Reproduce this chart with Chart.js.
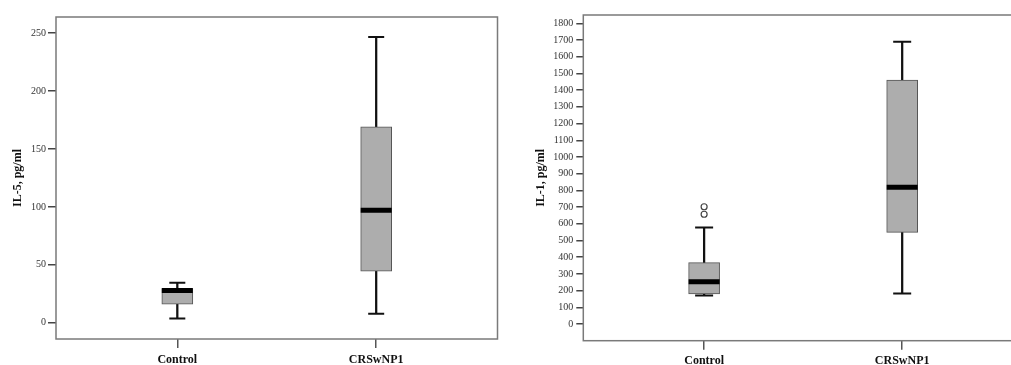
<!DOCTYPE html>
<html>
<head>
<meta charset="utf-8">
<title>IL-5 and IL-1 box plots</title>
<script src="https://cdn.jsdelivr.net/npm/chart.js@4.4.1/dist/chart.umd.min.js"></script>
<style>
  html, body { margin: 0; padding: 0; background: #fff; overflow: hidden; }
  #wrap { position: relative; width: 1011px; height: 365px; overflow: hidden; }
  .pane { position: absolute; top: 0; height: 365px; }
  #leftPane { left: 0; width: 505px; }
  #rightPane { left: 505px; width: 525px; }
</style>
</head>
<body>
<div id="wrap">
  <div class="pane" id="leftPane"><canvas id="il5Chart"></canvas></div>
  <div class="pane" id="rightPane"><canvas id="il1Chart"></canvas></div>
</div>
<script>
// Groups on the x axis
const groups = ['Control', 'CRSwNP1'];

// IL-5, pg/ml (min, quartiles, median, max per group)
const il5Min = [3.7, 7.8];
const il5Q1 = [16.1, 44.6];
const il5Median = [27.9, 97.2];
const il5Q3 = [29.6, 169.2];
const il5Max = [34.5, 246.8];
const il5Outliers = [[], []];
const il5Ticks = [0, 50, 100, 150, 200, 250];

// IL-1, pg/ml
const il1Min = [170, 182];
const il1Q1 = [180, 549];
const il1Median = [253, 818];
const il1Q3 = [367, 1461];
const il1Max = [577, 1690];
const il1Outliers = [[657, 702], []];
const il1Ticks = [0, 100, 200, 300, 400, 500, 600, 700, 800, 900,
                  1000, 1100, 1200, 1300, 1400, 1500, 1600, 1700, 1800];

const FONT = "'Liberation Serif', 'Times New Roman', serif";

// draws the box round the plot area
const framePlugin = {
    id: 'frame',
    beforeDatasetsDraw(chart) {
        const a = chart.chartArea;
        const ctx = chart.ctx;
        ctx.save();
        ctx.strokeStyle = '#7a7a7a';
        ctx.lineWidth = 1.5;
        ctx.strokeRect(a.left, a.top, a.right - a.left, a.bottom - a.top);
        ctx.restore();
    }
};

function makeBoxChart(canvasId, s, opt) {
    const whiskers = groups.map((g, i) => ({ x: i, y: [s.min[i], s.max[i]] }));
    const boxes = groups.map((g, i) => ({ x: i, y: [s.q1[i], s.q3[i]] }));
    const medians = groups.map((g, i) => ({ x: i, y: s.median[i] }));
    const caps = [];
    groups.forEach((g, i) => {
        caps.push({ x: i, y: s.min[i] });
        caps.push({ x: i, y: s.max[i] });
    });
    const outliers = [];
    groups.forEach((g, i) => s.outliers[i].forEach(v => outliers.push({ x: i, y: v })));

    return new Chart(document.getElementById(canvasId), {
        type: 'bar',
        data: {
            datasets: [
                {
                    label: 'whisker',
                    data: whiskers,
                    backgroundColor: '#111',
                    barThickness: 1.6,
                    grouped: false,
                    order: 5
                },
                {
                    label: 'box',
                    data: boxes,
                    backgroundColor: '#adadad',
                    borderColor: '#555',
                    borderWidth: 1,
                    borderSkipped: false,
                    barThickness: 31,
                    grouped: false,
                    order: 4
                },
                {
                    type: 'scatter',
                    label: 'caps',
                    data: caps,
                    pointStyle: 'line',
                    pointRadius: opt.capRadius,
                    borderColor: '#111',
                    borderWidth: 2,
                    order: 2
                },
                {
                    type: 'scatter',
                    label: 'median',
                    data: medians,
                    pointStyle: 'line',
                    pointRadius: 15.5,
                    borderColor: '#000',
                    borderWidth: 5,
                    order: 1
                },
                {
                    type: 'scatter',
                    label: 'outliers',
                    data: outliers,
                    pointStyle: 'circle',
                    pointRadius: 3,
                    backgroundColor: '#fff',
                    borderColor: '#444',
                    borderWidth: 1.2,
                    order: 0
                }
            ]
        },
        options: {
            responsive: true,
            maintainAspectRatio: false,
            animation: false,
            events: [],
            layout: { padding: opt.padding, autoPadding: false },
            plugins: { legend: { display: false }, tooltip: { enabled: false } },
            scales: {
                x: {
                    type: 'linear',
                    min: -0.61,
                    max: 1.61,
                    offset: false,
                    afterBuildTicks: (sc) => { sc.ticks = groups.map((g, i) => ({ value: i })); },
                    afterFit: (sc) => {
                        sc.height = opt.xHeight;
                        sc.paddingLeft = 0;
                        sc.paddingRight = 0;
                    },
                    grid: { drawOnChartArea: false, offset: false, tickLength: 9, color: '#555', lineWidth: 1.5 },
                    border: { display: false },
                    ticks: {
                        padding: opt.xTickPadding,
                        color: '#111',
                        font: { family: FONT, size: 12, weight: 'bold' },
                        callback: (v) => groups[v]
                    }
                },
                y: {
                    min: opt.yMin,
                    max: opt.yMax,
                    afterBuildTicks: (sc) => { sc.ticks = s.ticks.map(v => ({ value: v })); },
                    afterFit: (sc) => {
                        sc.width = opt.yWidth;
                        sc.paddingTop = 0;
                        sc.paddingBottom = 0;
                    },
                    grid: { drawOnChartArea: false, tickLength: opt.yTickLength, color: '#444', lineWidth: 1.5 },
                    border: { display: false },
                    ticks: {
                        padding: opt.yTickPadding,
                        color: '#333',
                        font: { family: FONT, size: 10 },
                        callback: (v) => String(v)
                    },
                    title: {
                        display: true,
                        text: opt.title,
                        color: '#111',
                        padding: { top: opt.titlePad, bottom: 0 },
                        font: { family: FONT, size: 12, weight: 'bold' }
                    }
                }
            }
        },
        plugins: [framePlugin]
    });
}

makeBoxChart('il5Chart',
    { min: il5Min, q1: il5Q1, median: il5Median, q3: il5Q3, max: il5Max, outliers: il5Outliers, ticks: il5Ticks },
    {
        title: 'IL-5, pg/ml', yMin: -14, yMax: 264,
        padding: { top: 17, right: 7.5, left: 0, bottom: 0 },
        yWidth: 56, xHeight: 26, yTickLength: 8, yTickPadding: 2, titlePad: 10.8,
        xTickPadding: 5, capRadius: 8
    });

makeBoxChart('il1Chart',
    { min: il1Min, q1: il1Q1, median: il1Median, q3: il1Q3, max: il1Max, outliers: il1Outliers, ticks: il1Ticks },
    {
        title: 'IL-1, pg/ml', yMin: -100, yMax: 1850,
        padding: { top: 15, right: 7, left: 0, bottom: 0 },
        yWidth: 78.3, xHeight: 24.3, yTickLength: 7, yTickPadding: 3, titlePad: 28.8,
        xTickPadding: 4, capRadius: 9
    });
</script>
</body>
</html>
